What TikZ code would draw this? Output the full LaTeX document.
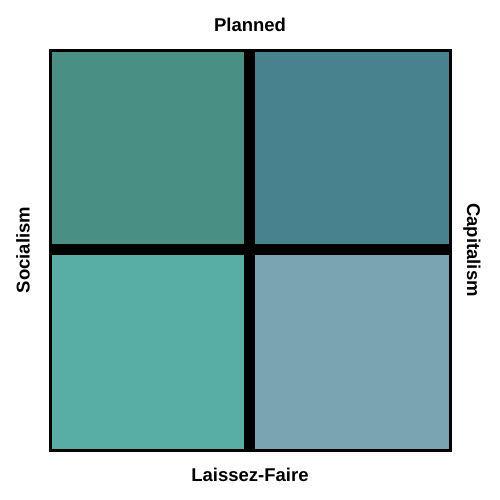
\documentclass[tikz,border=0pt]{standalone}
\usepackage{fontspec}
\setmainfont{Liberation Sans}
\definecolor{qtl}{RGB}{74,143,132}
\definecolor{qtr}{RGB}{73,130,143}
\definecolor{qbl}{RGB}{88,173,164}
\definecolor{qbr}{RGB}{120,165,176}
\tikzset{lbl/.style={font=\fontsize{18.5}{22}\selectfont\bfseries, inner sep=0pt}}
\begin{document}
\begin{tikzpicture}[x=1pt,y=-1pt]
\useasboundingbox (0,0) rectangle (500,500);
\fill[qtl] (50,50) rectangle (250,250);
\fill[qtr] (250,50) rectangle (450,250);
\fill[qbl] (50,250) rectangle (250,450);
\fill[qbr] (250,250) rectangle (450,450);
\draw[line width=11pt] (249.5,50) -- (249.5,450);
\draw[line width=11pt] (50,249) -- (450,249);
\draw[line width=3pt] (50.5,50.5) rectangle (450.5,450.5);
\node[lbl] (planned) at (250,25) {Planned};
\node[lbl] (laissez) at (250,475) {Laissez-Faire};
\node[lbl, rotate=90] (soc) at (23,250) {Socialism};
\node[lbl, rotate=-90] (cap) at (472,250) {Capitalism};
\end{tikzpicture}
\end{document}
